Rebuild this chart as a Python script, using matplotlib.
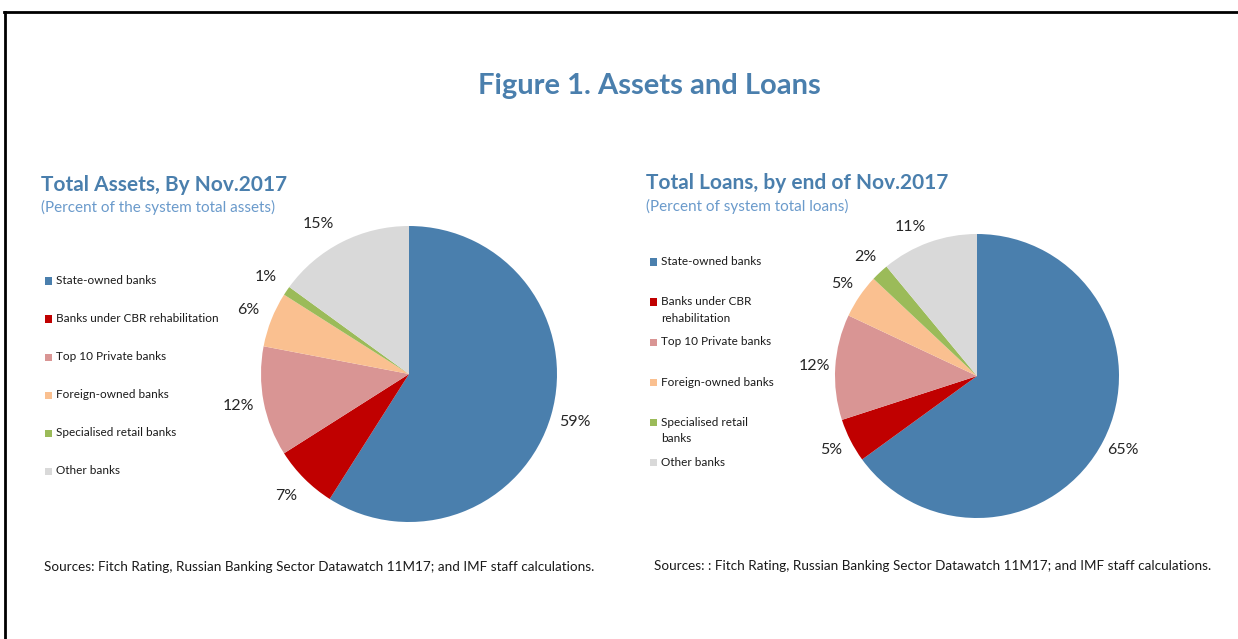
import matplotlib.pyplot as plt
from matplotlib.lines import Line2D
from matplotlib.patches import Rectangle

# bank groups, shared by both pies
groups = ['State-owned banks', 'Banks under CBR rehabilitation', 'Top 10 Private banks',
          'Foreign-owned banks', 'Specialised retail banks', 'Other banks']
groups_wrapped = ['State-owned banks', 'Banks under CBR\nrehabilitation', 'Top 10 Private banks',
                  'Foreign-owned banks', 'Specialised retail\nbanks', 'Other banks']
assets_pct = [59, 7, 12, 6, 1, 15]
loans_pct = [65, 5, 12, 5, 2, 11]

colors = ['#4a7fad', '#c00000', '#d99594', '#fac090', '#9bbb59', '#d9d9d9']
title_blue = '#4a7fad'
sub_blue = '#6a9acb'

plt.rcParams['font.family'] = ['Lato', 'DejaVu Sans']

W, H = 1238, 639
dpi = 100
fig = plt.figure(figsize=(W / dpi, H / dpi), dpi=dpi)
fig.patch.set_facecolor('white')


def fx(px):
    return px / W


def fy(py):
    return 1 - py / H


# frame lines along top and left
fig.add_artist(Line2D([fx(4), 1], [fy(12), fy(12)], color='black', lw=2))
fig.add_artist(Line2D([fx(5), fx(5)], [fy(12), 0], color='black', lw=2))

fig.text(fx(649), fy(86), 'Figure 1. Assets and Loans', ha='center', va='center',
         fontsize=21, fontweight='bold', color=title_blue)


def draw_pie(cx, cy, r, values, pctdist):
    ax = fig.add_axes([fx(cx - r), fy(cy + r), 2 * r / W, 2 * r / H])
    wedges, _, autotexts = ax.pie(values, colors=colors, startangle=90, counterclock=False,
                                  autopct=lambda p: f'{p:.0f}%', pctdistance=pctdist,
                                  wedgeprops=dict(linewidth=0))
    for t in autotexts:
        t.set_fontsize(11.5)
        t.set_color('#262626')
    # last slice label sits a little further left, as Excel places it
    x, y = autotexts[-1].get_position()
    autotexts[-1].set_position((x - 0.08, y - 0.03))
    ax.set_xlim(-1, 1)
    ax.set_ylim(-1, 1)
    ax.set_aspect('auto')
    return ax


draw_pie(409, 374, 148, assets_pct, 1.17)
draw_pie(977, 376, 142, loans_pct, 1.15)

# left panel headings
fig.text(fx(41), fy(185), 'Total Assets, By Nov.2017', ha='left', va='center',
         fontsize=15, fontweight='bold', color=title_blue)
fig.text(fx(41), fy(207), '(Percent of the system total assets)', ha='left', va='center',
         fontsize=11, color=sub_blue)

# right panel headings
fig.text(fx(646), fy(183), 'Total Loans, by end of Nov.2017', ha='left', va='center',
         fontsize=15, fontweight='bold', color=title_blue)
fig.text(fx(646), fy(206), '(Percent of system total loans)', ha='left', va='center',
         fontsize=11, color=sub_blue)


def draw_legend(x, y0, step, labels, line_gap):
    for i, (lab, col) in enumerate(zip(labels, colors)):
        yc = y0 + i * step
        fig.add_artist(Rectangle((fx(x), fy(yc + 3.5)), 7 / W, 7 / H, facecolor=col,
                                 edgecolor='none', transform=fig.transFigure))
        for j, line in enumerate(lab.split('\n')):
            fig.text(fx(x + 11), fy(yc + j * line_gap), line, ha='left', va='center',
                     fontsize=8.5, color='#1a1a1a')


draw_legend(45, 281, 38, groups, 16)
draw_legend(650, 262, 40, groups_wrapped, 16)

fig.text(fx(44), fy(567), 'Sources: Fitch Rating, Russian Banking Sector Datawatch 11M17; and IMF staff calculations.',
         ha='left', va='center', fontsize=9.7, color='#1a1a1a')
fig.text(fx(654), fy(566), 'Sources: : Fitch Rating, Russian Banking Sector Datawatch 11M17; and IMF staff calculations.',
         ha='left', va='center', fontsize=9.7, color='#1a1a1a')

fig.savefig('out.png', dpi=dpi)
